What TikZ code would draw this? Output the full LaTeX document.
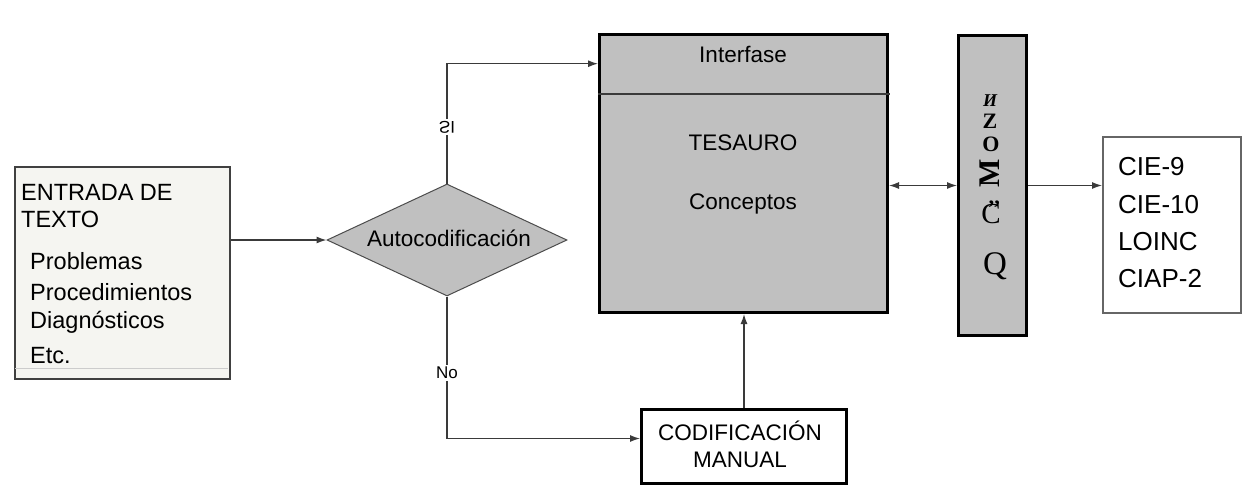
\documentclass[tikz,border=0pt]{standalone}
\usepackage{fontspec}
\setmainfont{Liberation Sans}
\newfontfamily\glyphserif{Liberation Serif}
\usetikzlibrary{shapes.geometric,arrows.meta}
\definecolor{boxgray}{HTML}{C0C0C0}
\definecolor{paper}{HTML}{F5F5F1}
\definecolor{linegray}{HTML}{3A3A3A}
\tikzset{
  txt/.style={font=\fontsize{22.5}{26}\selectfont, inner sep=0pt, text=black},
  entxt/.style={font=\fontsize{23.5}{27}\selectfont, inner sep=0pt, text=black},
  bigtxt/.style={font=\fontsize{26}{30}\selectfont, inner sep=0pt, text=black},
  arr/.style={draw=linegray, line width=1.3pt, -{Latex[length=10pt,width=7pt]}},
  arrboth/.style={draw=linegray, line width=1.3pt, {Latex[length=10pt,width=7pt]}-{Latex[length=10pt,width=7pt]}},
  lbl/.style={font=\fontsize{17}{20}\selectfont, fill=white, inner sep=2pt, text=black},
  gl/.style={inner sep=0pt, text=black},
}
\begin{document}
\begin{tikzpicture}[x=1pt,y=-1pt]
\useasboundingbox (0,0) rectangle (1244,493);
\fill[white] (0,0) rectangle (1244,493);

% ENTRADA DE TEXTO box
\node[draw=black!75, line width=2pt, fill=paper, anchor=north west, minimum width=215pt, minimum height=212pt, inner sep=0pt] (entrada) at (14,166) {};
\draw[black!20, line width=1pt] (15,368) -- (228,368);
\node[entxt, anchor=base west] (e1) at (21,200) {ENTRADA DE};
\node[entxt, anchor=base west] (e2) at (21,227) {TEXTO};
\node[entxt, anchor=base west] (e3) at (30,269) {Problemas};
\node[entxt, anchor=base west] (e4) at (30,300) {Procedimientos};
\node[entxt, anchor=base west] (e5) at (30,328) {Diagnósticos};
\node[entxt, anchor=base west] (e6) at (30,363) {Etc.};

% Diamond
\node[diamond, draw=black!70, line width=1pt, fill=boxgray, minimum width=240pt, minimum height=112pt, inner sep=0pt] (auto) at (447,240) {};
\node[txt] (autot) at (449,238) {Autocodificación};

% TESAURO box
\node[draw=black, line width=3pt, fill=boxgray, anchor=north west, minimum width=288pt, minimum height=278pt, inner sep=0pt] (tes) at (598,33) {};
\node[anchor=north west, minimum width=288pt, minimum height=61pt, inner sep=0pt] (interf) at (598,33) {};
\draw[linegray, line width=1.2pt] (598,94) -- (890,94);
\node[txt, anchor=base] (interft) at (743,62) {Interfase};
\node[txt, anchor=base] (tesa) at (743,150) {TESAURO};
\node[txt, anchor=base] (conc) at (743,209) {Conceptos};

% Narrow box
\node[draw=black, line width=3pt, fill=boxgray, anchor=north west, minimum width=68pt, minimum height=300pt, inner sep=0pt] (sn) at (957,34) {};
\node[gl, font=\glyphserif\itshape\bfseries\fontsize{18}{18}\selectfont] (g1) at (990,101) {И};
\node[gl, font=\glyphserif\bfseries\fontsize{22}{22}\selectfont] (g2) at (990,121) {Z};
\node[gl, font=\glyphserif\bfseries\fontsize{22}{22}\selectfont] (g3) at (991,144) {O};
\node[gl, font=\glyphserif\bfseries\fontsize{30}{30}\selectfont, rotate=90] (g4) at (990,173) {M};
\node[gl, font=\glyphserif\fontsize{29}{29}\selectfont, anchor=base] (g5) at (991,223) {C\llap{\raisebox{8pt}{\bfseries\fontsize{22}{22}\selectfont ’’}}};
\node[gl, font=\glyphserif\fontsize{33}{33}\selectfont] (g6) at (995,266) {Q};

% CIE box
\node[draw=black!60, line width=1.5pt, fill=white, anchor=north west, minimum width=138pt, minimum height=176pt, inner sep=0pt] (cie) at (1102,136) {};
\node[bigtxt, anchor=base west] (c1) at (1118,175) {CIE-9};
\node[bigtxt, anchor=base west] (c2) at (1118,213) {CIE-10};
\node[bigtxt, anchor=base west] (c3) at (1118,250) {LOINC};
\node[bigtxt, anchor=base west] (c4) at (1118,287) {CIAP-2};

% CODIFICACION MANUAL box
\node[draw=black, line width=3pt, fill=white, anchor=north west, minimum width=205pt, minimum height=74pt, inner sep=0pt] (codif) at (640,408) {};
\node[txt, anchor=base] (cod1) at (740,440) {CODIFICACIÓN};
\node[txt, anchor=base] (cod2) at (740,467) {MANUAL};

% Connectors
\draw[arr] (entrada.east |- auto.west) -- (auto.west);
\draw[arr] (auto.north) |- (interf.west) node[lbl, pos=0.235, yscale=-1] (si) {SI};
\draw[arr] (auto.south) |- ([yshift=8pt]codif.west) node[lbl, pos=0.27] (no) {No};
\draw[arr] (codif.north) -- (codif.north |- tes.south);
\draw[arrboth] (sn.west -| tes.east) -- (sn.west);
\draw[arr] (sn.east) -- (sn.east -| cie.west);
\end{tikzpicture}
\end{document}
